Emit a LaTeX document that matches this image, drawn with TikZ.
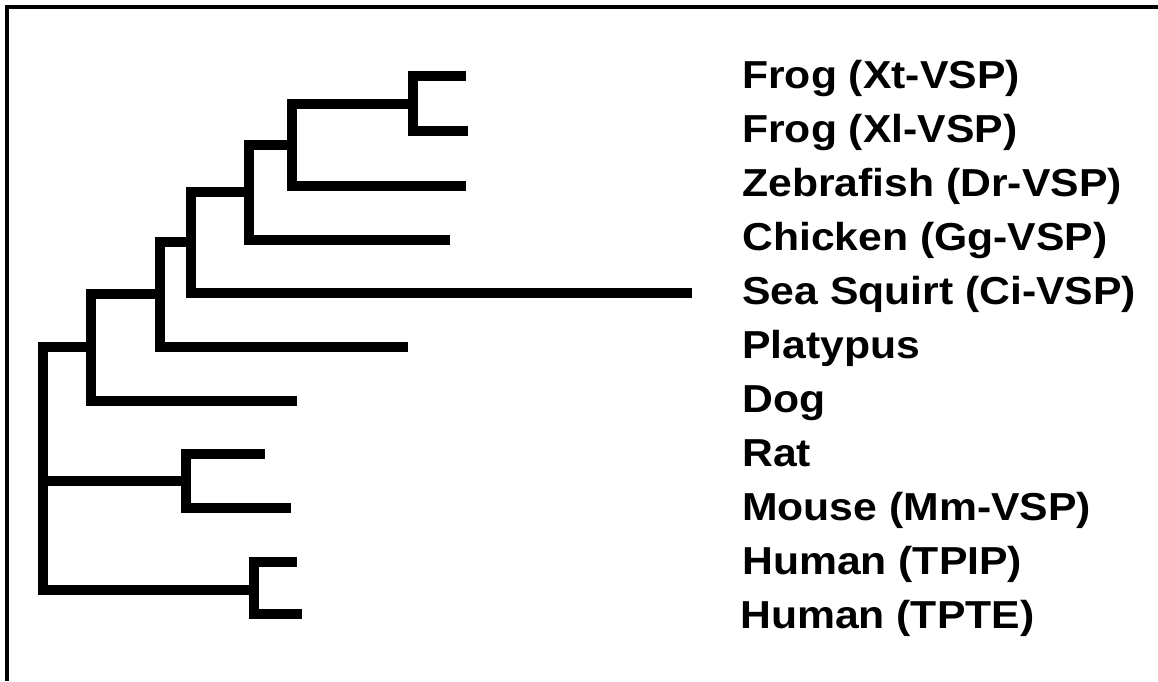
\documentclass[tikz,border=0pt]{standalone}
\usepackage{fontspec}
\setmainfont{Liberation Sans}
\begin{document}
\begin{tikzpicture}[x=1pt,y=-1pt,
  br/.style={line width=10.5pt, line join=miter, line cap=butt},
  frame/.style={line width=4pt, line join=miter},
  lab/.style={anchor=base west, inner sep=0pt, font=\bfseries\fontsize{39}{39}\selectfont}]
\useasboundingbox (0,0) rectangle (1158,681);
\draw[frame] (7,681) -- (7,7) -- (1158,7);
% leaf ends
\coordinate (l1) at (466,76);
\coordinate (l2) at (468,131);
\coordinate (l3) at (466,186);
\coordinate (l4) at (450,240);
\coordinate (l5) at (692,293);
\coordinate (l6) at (408,347);
\coordinate (l7) at (297,401);
\coordinate (l8) at (265,454);
\coordinate (l9) at (291,508);
\coordinate (l10) at (297,562);
\coordinate (l11) at (302,614);
% inner nodes
\coordinate (n1) at (413,104);
\coordinate (n2) at (292,145);
\coordinate (n3) at (249,192);
\coordinate (n4) at (191,242);
\coordinate (n5) at (160,294);
\coordinate (n6) at (91,347);
\coordinate (n7) at (186,481);
\coordinate (n8) at (254,590);
\coordinate (root) at (43,481);
% branches
\draw[br] (l1) -| (n1) |- (l2);
\draw[br] (n1) -| (n2) |- (l3);
\draw[br] (n2) -| (n3) |- (l4);
\draw[br] (n3) -| (n4) |- (l5);
\draw[br] (n4) -| (n5) |- (l6);
\draw[br] (n5) -| (n6) |- (l7);
\draw[br] (l8) -| (n7) |- (l9);
\draw[br] (l10) -| (n8) |- (l11);
\draw[br] (n6) -| (root) |- (n8);
\draw[br] (root) -- (n7);
% labels
\node[lab] (t1) at (742,88) {\scalebox{1.095}[1]{Frog (Xt-VSP)}};
\node[lab] (t2) at (742,142) {\scalebox{1.095}[1]{Frog (Xl-VSP)}};
\node[lab] (t3) at (742,196) {\scalebox{1.095}[1]{Zebrafish (Dr-VSP)}};
\node[lab] (t4) at (742,250) {\scalebox{1.095}[1]{Chicken (Gg-VSP)}};
\node[lab] (t5) at (742,304) {\scalebox{1.095}[1]{Sea Squirt (Ci-VSP)}};
\node[lab] (t6) at (742,358) {\scalebox{1.095}[1]{Platypus}};
\node[lab] (t7) at (742,412) {\scalebox{1.095}[1]{Dog}};
\node[lab] (t8) at (742,466) {\scalebox{1.095}[1]{Rat}};
\node[lab] (t9) at (742,520) {\scalebox{1.095}[1]{Mouse (Mm-VSP)}};
\node[lab] (t10) at (742,574) {\scalebox{1.095}[1]{Human (TPIP)}};
\node[lab] (t11) at (740,628) {\scalebox{1.095}[1]{Human (TPTE)}};
\end{tikzpicture}
\end{document}
